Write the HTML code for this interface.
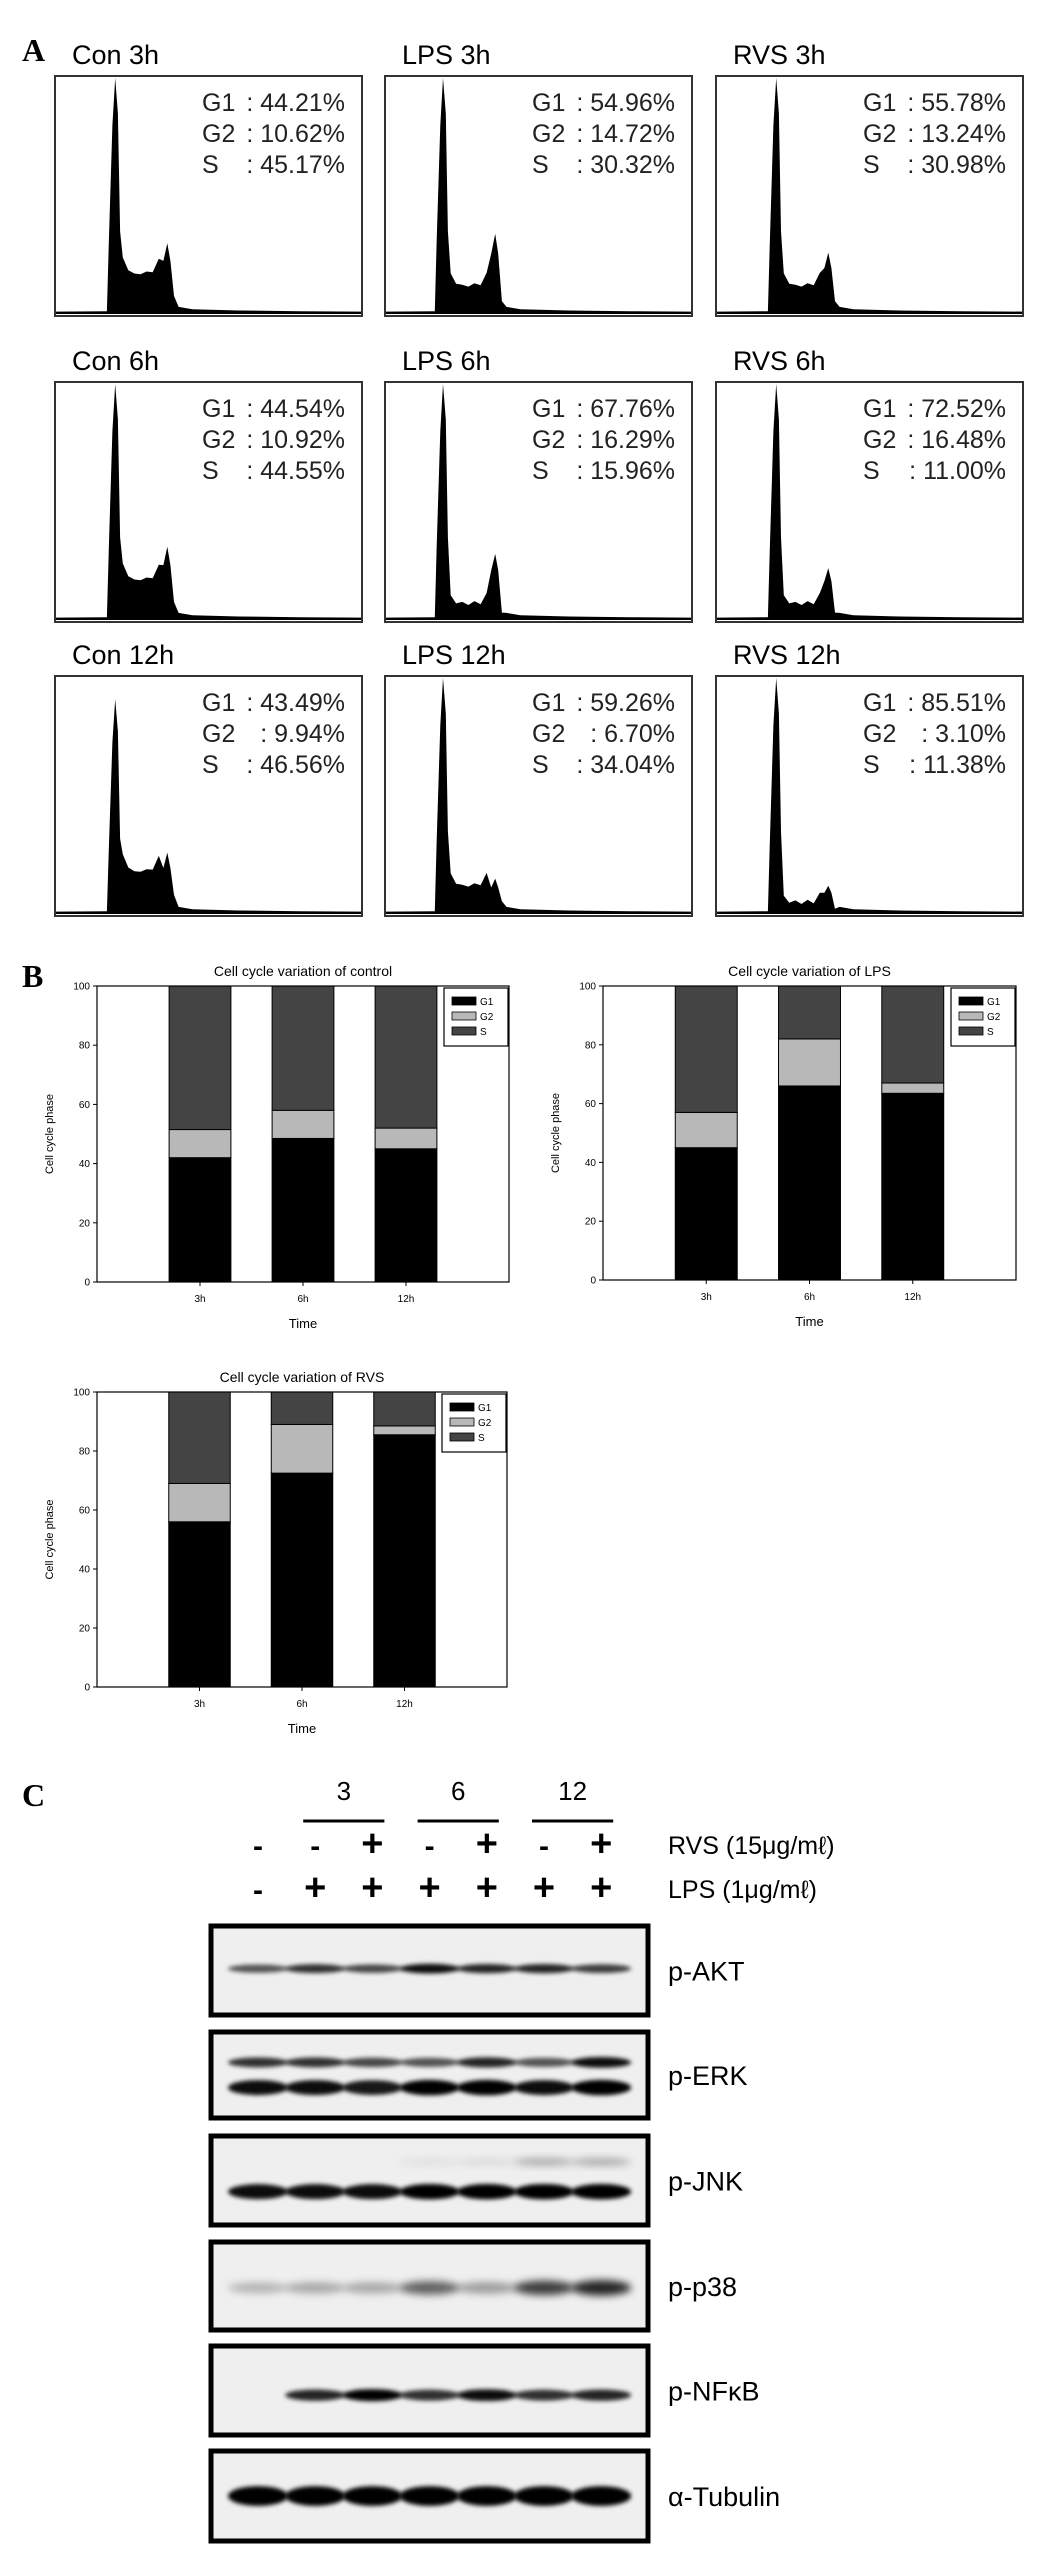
<!DOCTYPE html>
<html><head><meta charset="utf-8">
<style>
html,body{margin:0;padding:0;background:#fff;}
svg{display:block;}
text{font-family:"Liberation Sans","DejaVu Sans",sans-serif;}
</style></head>
<body>
<svg id="fig" width="1046" height="2551" viewBox="0 0 1046 2551" xmlns="http://www.w3.org/2000/svg">
<defs>
<filter id="blur2" x="-20%" y="-50%" width="140%" height="200%"><feGaussianBlur stdDeviation="2"/></filter>
<filter id="blur4" x="-30%" y="-80%" width="160%" height="260%"><feGaussianBlur stdDeviation="4"/></filter>
</defs>
<text x="22" y="61" font-weight="bold" font-size="32" style="font-family:'Liberation Serif',serif">A</text>
<text x="22" y="987" font-weight="bold" font-size="32" style="font-family:'Liberation Serif',serif">B</text>
<text x="22" y="1806" font-weight="bold" font-size="32" style="font-family:'Liberation Serif',serif">C</text>
<g id="panelA"></g>
<g id="panelB"></g>
<g id="panelC"></g>
</svg>
<script>
// ---------- Panel A data ----------
const histTitles = ["Con 3h","LPS 3h","RVS 3h","Con 6h","LPS 6h","RVS 6h","Con 12h","LPS 12h","RVS 12h"];
const histG1 = ["44.21%","54.96%","55.78%","44.54%","67.76%","72.52%","43.49%","59.26%","85.51%"];
const histG2 = ["10.62%","14.72%","13.24%","10.92%","16.29%","16.48%","9.94%","6.70%","3.10%"];
const histS  = ["45.17%","30.32%","30.98%","44.55%","15.96%","11.00%","46.56%","34.04%","11.38%"];
const histPeakG1 = [1.0,1.0,1.0,1.0,1.0,1.0,0.91,1.0,1.0];
const histPlateau = [0.17,0.12,0.12,0.17,0.07,0.07,0.18,0.12,0.05];
const histPeakG2 = [0.30,0.34,0.26,0.31,0.28,0.22,0.26,0.15,0.12];

// ---------- Panel B data ----------
const timeCats = ["3h","6h","12h"];
const yTicks = [0,20,40,60,80,100];
const ctrlG1 = [42,48.5,45];
const ctrlG2 = [9.5,9.5,7];
const lpsG1 = [45,66,63.5];
const lpsG2 = [12,16,3.5];
const rvsG1 = [56,72.5,85.5];
const rvsG2 = [13,16.5,3];

// ---------- Panel C data ----------
const timeGroups = ["3","6","12"];
const rvsSigns = ["-","-","+","-","+","-","+"];
const lpsSigns = ["-","+","+","+","+","+","+"];
const blotLabels = ["p-AKT","p-ERK","p-JNK","p-p38","p-NF\u03baB","\u03b1-Tubulin"];
const aktBand = [0.65,0.8,0.7,0.95,0.85,0.85,0.75];
const erkUpper = [0.8,0.8,0.7,0.65,0.85,0.65,0.95];
const erkLower = [0.95,0.95,0.9,1.0,1.0,0.95,1.0];
const jnkBand = [0.95,0.95,0.95,1.0,1.0,1.0,1.0];
const jnkUpper = [0,0,0,0.08,0.1,0.3,0.3];
const p38Band = [0.25,0.3,0.3,0.6,0.35,0.75,0.85];
const nfkbBand = [0,0.85,1.0,0.8,0.95,0.8,0.85];
const tubBand = [1,1,1,1,1,1,1];

const NS="http://www.w3.org/2000/svg";
function mk(tag, attrs, parent){const e=document.createElementNS(NS,tag);for(const k in attrs)e.setAttribute(k,attrs[k]);parent.appendChild(e);return e;}

// ---------- Panel A ----------
const A=document.getElementById('panelA');
const colX=[55,385,716], rowY=[76,382,676], boxW=307, boxH=240;
histTitles.forEach((t,i)=>{
  const c=i%3, r=Math.floor(i/3);
  const x0=colX[c], y0=rowY[r];
  const g=mk('g',{},A);
  
  
  const tt=mk('text',{x:x0+17,y:y0-12,'font-size':27},g);
  tt.textContent=t;
  
  
  const box=mk('rect',{x:x0,y:y0,width:boxW,height:boxH,fill:'#fff',stroke:'#333','stroke-width':2},g);
  
  
  const base=y0+boxH-2, H=boxH-4;
  const H1=histPeakG1[i], P=histPlateau[i], G=histPeakG2[i];
  const pk = c===1?0.19:0.197;
  const prof=[[0,.01],[pk-0.03,.012],[pk-0.024,.3*H1],[pk-0.012,.8*H1],[pk-0.003,H1],[pk+0.006,.85*H1],[pk+0.013,.35*H1],[pk+0.022,P*1.35],[pk+0.04,P*1.15],[pk+0.06,P*0.95],[pk+0.08,P*1.05],[pk+0.1,P*1.0],[pk+0.12,P*1.1],[pk+0.14,P*1.2+0.02],[pk+0.155,G*0.75],[pk+0.168,G],[pk+0.178,G*0.75],[pk+0.19,P*0.45],[pk+0.205,.03],[pk+0.25,.02],[0.6,.015],[0.8,.012],[1,.01]];
  let d='M'+(x0+1)+','+base;
  prof.forEach(([f,h],k)=>{
    const jitter = (f>pk+0.02 && f<pk+0.15)? ((k%2)?0.01:-0.01):0;
    d+=' L'+(x0+1+f*(boxW-2)).toFixed(1)+','+(base-(h+jitter)*H).toFixed(1);
  });
  d+=' L'+(x0+boxW-1)+','+base+' Z';
  const p=mk('path',{d:d,fill:'#000'},g);
  
  
  const sx=x0+147, lines=[["G1",histG1[i]],["G2",histG2[i]],["S",histS[i]]];
  lines.forEach((ln,k)=>{
    const yy=y0+35+k*31;
    const s=mk('text',{x:sx,y:yy,'font-size':25,fill:'#222'},g);
    s.textContent=ln[0];
    
    
    const v=mk('text',{x:x0+290,y:yy,'font-size':25,fill:'#222','text-anchor':'end'},g);
    v.textContent=': '+ln[1];
    
    
  });
});

// ---------- Panel B ----------
const B=document.getElementById('panelB');
function barChart(name,title,x0,x1,yTop,yBot,g1,g2){
  const g=mk('g',{},B);
  
  
  const W=x1-x0;
  const yS=v=>yBot-(v/100)*(yBot-yTop);
  const xS=i=>x0+W*(0.25+0.25*i);
  const bw=W*0.15;
  const t=mk('text',{x:(x0+x1)/2,y:yTop-10,'font-size':14,'text-anchor':'middle'},g);
  t.textContent=title;
  
  
  timeCats.forEach((c,i)=>{
    const cx=xS(i);
    const segs=[[0,g1[i],'#000','g1'],[g1[i],g1[i]+g2[i],'#b8b8b8','g2'],[g1[i]+g2[i],100,'#444','s']];
    segs.forEach(s=>{
      const r=mk('rect',{x:cx-bw/2,y:yS(s[1]),width:bw,height:yS(s[0])-yS(s[1]),fill:s[2],stroke:'#000','stroke-width':1},g);
      
      
    });
    const tl=mk('text',{x:cx,y:yBot+20,'font-size':10,'text-anchor':'middle'},g);
    tl.textContent=c;
    
    
    mk('line',{x1:cx,x2:cx,y1:yBot,y2:yBot+4,stroke:'#000'},g);
  });
  mk('rect',{x:x0,y:yTop,width:W,height:yBot-yTop,fill:'none',stroke:'#000','stroke-width':1.2},g);
  yTicks.forEach(v=>{
    mk('line',{x1:x0-4,x2:x0,y1:yS(v),y2:yS(v),stroke:'#000'},g);
    const tl=mk('text',{x:x0-7,y:yS(v)+3.5,'font-size':10,'text-anchor':'end'},g);
    tl.textContent=v;
    
    
  });
  const xt=mk('text',{x:(x0+x1)/2,y:yBot+46,'font-size':13,'text-anchor':'middle'},g);
  xt.textContent='Time';
  
  
  const ym=(yTop+yBot)/2;
  const yt=mk('text',{x:x0-44,y:ym,'font-size':11,'text-anchor':'middle',transform:'rotate(-90 '+(x0-44)+' '+ym+')'},g);
  yt.textContent='Cell cycle phase';
  
  
  const lg=mk('g',{},g);
  
  
  const lx=x1-65, ly=yTop+2;
  mk('rect',{x:lx,y:ly,width:64,height:58,fill:'#fff',stroke:'#000','stroke-width':1.2},lg);
  [['G1','#000'],['G2','#b8b8b8'],['S','#444']].forEach((e,k)=>{
    const er=mk('rect',{x:lx+8,y:ly+9+k*15,width:24,height:8,fill:e[1],stroke:'#000','stroke-width':0.8},lg);
    
    
    const et=mk('text',{x:lx+36,y:ly+17+k*15,'font-size':10},lg);
    et.textContent=e[0];
    
    
  });
}
barChart('chart-control','Cell cycle variation of control',97,509,986,1282,ctrlG1,ctrlG2);
barChart('chart-lps','Cell cycle variation of LPS',603,1016,986,1280,lpsG1,lpsG2);
barChart('chart-rvs','Cell cycle variation of RVS',97,507,1392,1687,rvsG1,rvsG2);

// ---------- Panel C ----------
const C=document.getElementById('panelC');
const laneX=i=>258+i*57.2;
timeGroups.forEach((t,k)=>{
  const a=laneX(1+2*k), b=laneX(2+2*k);
  const tx=mk('text',{x:(a+b)/2,y:1800,'font-size':26,'text-anchor':'middle'},C);
  tx.textContent=t;
  
  
  const l=mk('line',{x1:a-12,x2:b+12,y1:1821,y2:1821,stroke:'#000','stroke-width':3},C);
  
  
});
[[rvsSigns,1856,'RVS (15\u03bcg/m\u2113)'],[lpsSigns,1900,'LPS (1\u03bcg/m\u2113)']].forEach((row,ri)=>{
  row[0].forEach((s,i)=>{
    const t=mk('text',{x:laneX(i),y:row[1],'font-size':s==='+'?38:30,'font-weight':'bold','text-anchor':'middle'},C);
    t.textContent=s;
    
    
  });
  const lab=mk('text',{x:668,y:row[1]-2,'font-size':25},C);
  lab.textContent=row[2];
  
  
});
const blotY=[[1924,2017],[2030,2120],[2134,2227],[2240,2332],[2344,2437],[2449,2543]];
const blotBands=[
  [[aktBand,0.48,9,'blur2']],
  [[erkUpper,0.36,10,'blur2'],[erkLower,0.64,14,'blur2']],
  [[jnkUpper,0.3,10,'blur4'],[jnkBand,0.62,14,'blur2']],
  [[p38Band,0.52,15,'blur4']],
  [[nfkbBand,0.55,11,'blur2']],
  [[tubBand,0.5,18,'blur2']]
];
blotLabels.forEach((lab,b)=>{
  const [y0,y1]=blotY[b];
  const g=mk('g',{},C);
  
  
  mk('rect',{x:211,y:y0+2,width:437,height:y1-y0-4,fill:'#efefef',stroke:'#000','stroke-width':5},g);
  blotBands[b].forEach(bd=>{
    bd[0].forEach((v,i)=>{
      if(v<=0)return;
      const band=mk('ellipse',{cx:laneX(i),cy:y0+(y1-y0)*bd[1],rx:30,ry:bd[2]/2*(0.6+0.5*v),fill:'#000','fill-opacity':Math.min(1,v),filter:'url(#'+bd[3]+')'},g);
      
      
    });
  });
  const t=mk('text',{x:668,y:(y0+y1)/2+10,'font-size':27},g);
  t.textContent=lab;
  
  
});
</script>
</body></html>
